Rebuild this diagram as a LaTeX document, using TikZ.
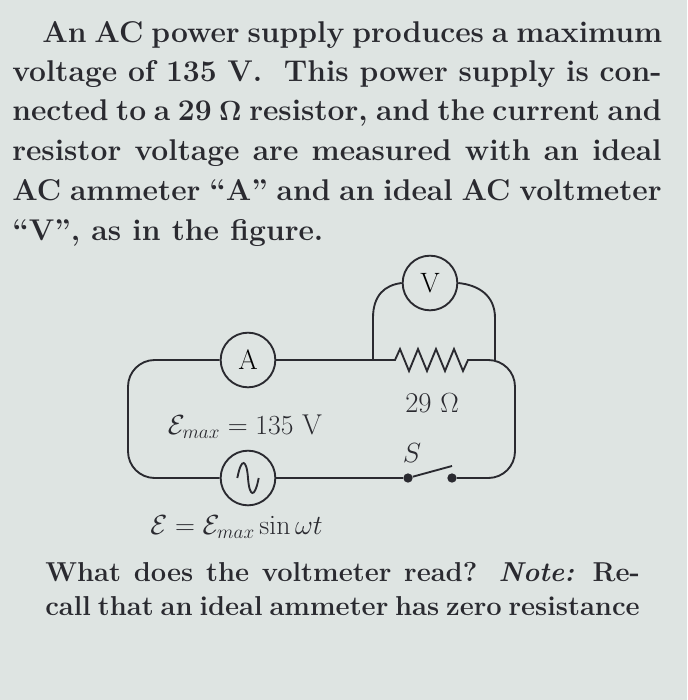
\documentclass[tikz,border=0pt]{standalone}
\usepackage{amsmath}
\begin{document}
\begin{tikzpicture}[x=0.75pt,y=-0.75pt,
  wire/.style={line width=1.4pt,draw=ink},
  meter/.style={circle,draw=ink,line width=1.4pt,minimum size=41pt,inner sep=0pt,font=\fontsize{21}{21}\selectfont},
  txt/.style={anchor=base west,inner sep=0pt,text=ink,font=\fontsize{22.5}{26}\selectfont\bfseries},
  qtxt/.style={anchor=base west,inner sep=0pt,text=ink,font=\fontsize{20.5}{24}\selectfont\bfseries},
  lbl/.style={inner sep=0pt,text=ink,font=\fontsize{21.5}{24}\selectfont}]
\definecolor{ink}{RGB}{42,42,48}
\definecolor{bg}{RGB}{222,228,226}
\fill[bg] (0,0) rectangle (687,700);
\useasboundingbox (0,0) rectangle (687,700);
% problem text
\node[txt] (l1) at (42,42) {\makebox[465pt][s]{An AC power supply produces a maximum}};
\node[txt] (l2) at (12,81) {\makebox[487pt][s]{voltage of 135 V.\ \ This power supply is con-}};
\node[txt] (l3) at (12,120) {\makebox[487pt][s]{nected to a 29 $\boldsymbol\Omega$ resistor, and the current and}};
\node[txt] (l4) at (12,160) {\makebox[487pt][s]{resistor voltage are measured with an ideal}};
\node[txt] (l5) at (12,200) {\makebox[487pt][s]{AC ammeter ``A'' and an ideal AC voltmeter}};
\node[txt] (l6) at (12,240) {``V'', as in the figure.};
% circuit
\node[meter] (A) at (248,360) {A};
\node[meter] (V) at (430,283) {V};
\node[meter] (S) at (248,478) {};
\draw[wire] ([xshift=-8pt]S.center) .. controls ([xshift=-5pt,yshift=16pt]S.center) and ([xshift=-1pt,yshift=14pt]S.center) .. (S.center)
  .. controls ([xshift=1pt,yshift=-14pt]S.center) and ([xshift=5pt,yshift=-16pt]S.center) .. ([xshift=8pt]S.center);
\coordinate (rl) at (390,360);
\coordinate (rr) at (478,360);
\coordinate (vl) at (373,360);
\coordinate (vr) at (495,360);
\coordinate (tl) at (128,360);
\coordinate (bl) at (128,478);
\coordinate (tr) at (515,360);
\coordinate (br) at (515,478);
\node[circle,fill=ink,inner sep=0pt,minimum size=7pt] (s1) at (408,478) {};
\node[circle,fill=ink,inner sep=0pt,minimum size=7pt] (s2) at (452,478) {};
\coordinate (sw) at (452,466);
\draw[wire,rounded corners=20pt] (A.west) -- (tl) -- (bl) -- (S.west);
\draw[wire] (A.east) -- (rl);
\draw[wire] (rl) -- ++(5,0) -- ++(5,-11) -- ++(9,22) -- ++(9,-22) -- ++(9,22) -- ++(9,-22) -- ++(9,22) -- ++(9,-22) -- ++(9,22) -- ++(5,-11) -- (rr);
\draw[wire,rounded corners=20pt] (rr) -- (tr) -- (br) -- (s2);
\draw[wire] (S.east) -- (s1);
\draw[wire] (s1) -- (sw);
\draw[wire] (vl) -- (373,318) .. controls (373,295) and (385,285) .. (V.west);
\draw[wire] (vr) -- (495,318) .. controls (495,295) and (478,285) .. (V.east);
\node[lbl] (rlab) at (432,403) {29 $\Omega$};
\node[lbl] (slab) at (412,453) {$S$};
\node[lbl] (elab) at (245,427) {$\mathcal{E}_{max}=135$ V};
\node[lbl,anchor=base west] (form) at (150,534) {$\mathcal{E}=\mathcal{E}_{max}\sin\omega t$};
% question
\node[qtxt] (q1) at (45,581) {\makebox[446pt][s]{What does the voltmeter read? \textit{Note:} Re-}};
\node[qtxt] (q2) at (45,615) {\makebox[441pt][s]{call that an ideal ammeter has zero resistance}};
\end{tikzpicture}
\end{document}
